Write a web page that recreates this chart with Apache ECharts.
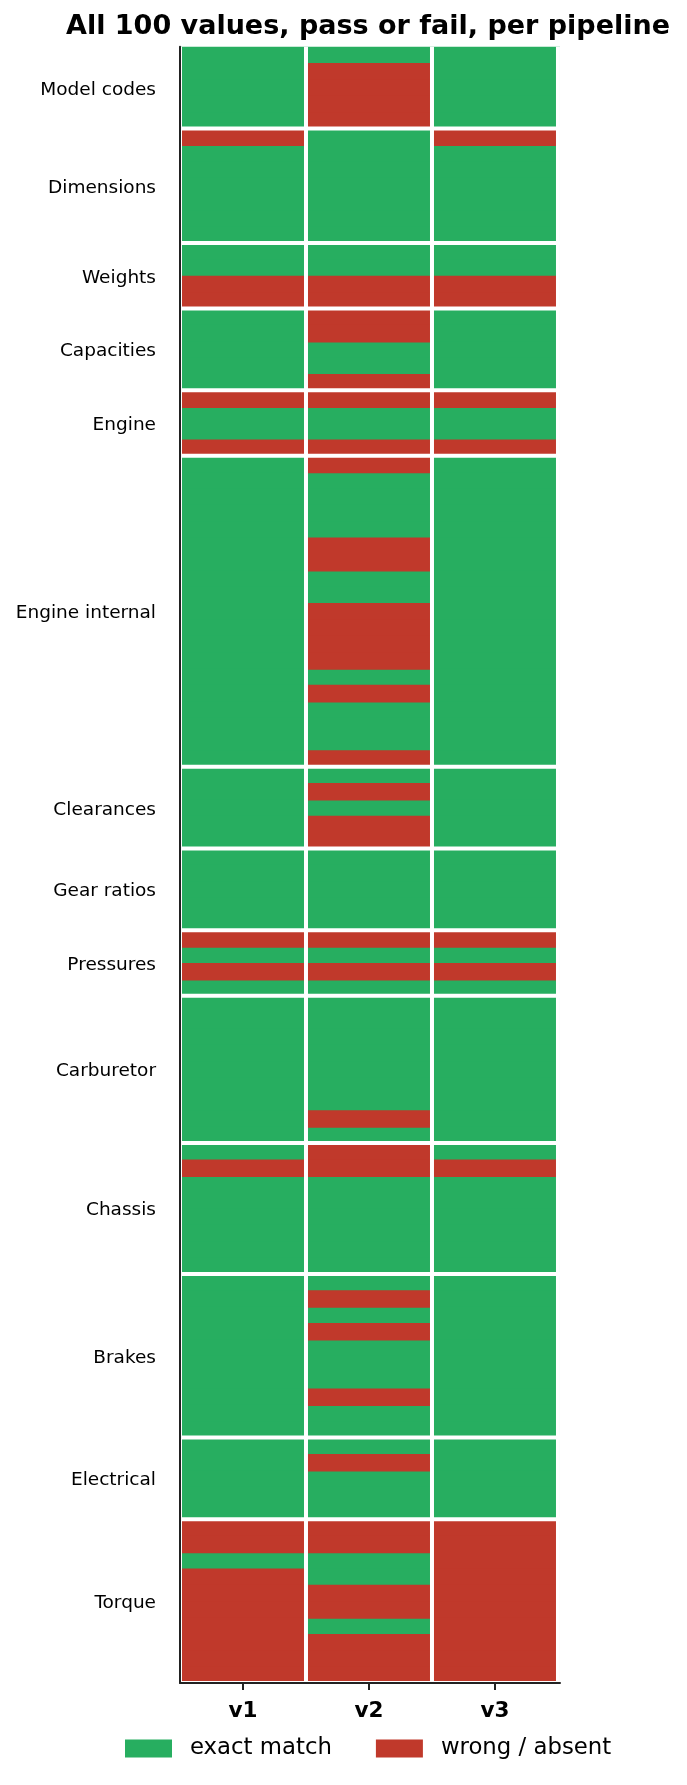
<!DOCTYPE html>
<html>
<head>
<meta charset="utf-8">
<script src="https://cdn.jsdelivr.net/npm/echarts@6/dist/echarts.min.js"></script>
<style>
html,body{margin:0;padding:0;background:#fff;}
#c{width:687px;height:1785px;}
</style>
</head>
<body>
<div id="c"></div>
<script>
const TITLE = 'All 100 values, pass or fail, per pipeline';
const pipelines = ['v1', 'v2', 'v3'];
const groups = ['Model codes', 'Dimensions', 'Weights', 'Capacities', 'Engine', 'Engine internal',
  'Clearances', 'Gear ratios', 'Pressures', 'Carburetor', 'Chassis', 'Brakes', 'Electrical', 'Torque'];
const groupSizes = [5, 7, 4, 5, 4, 19, 5, 5, 4, 9, 8, 10, 5, 10];
const legendNames = ['exact match', 'wrong / absent'];

// 1 = exact match, 0 = wrong / absent (one value per row, grouped as above)
const v1 = [
  1,1,1,1,1,
  0,1,1,1,1,1,1,
  1,1,0,0,
  1,1,1,1,1,
  0,1,1,0,
  1,1,1,1,1,1,1,1,1,1,1,1,1,1,1,1,1,1,1,
  1,1,1,1,1,
  1,1,1,1,1,
  0,1,0,1,
  1,1,1,1,1,1,1,1,1,
  1,0,1,1,1,1,1,1,
  1,1,1,1,1,1,1,1,1,1,
  1,1,1,1,1,
  0,0,1,0,0,0,0,0,0,0
];
const v2 = [
  1,0,0,0,0,
  1,1,1,1,1,1,1,
  1,1,0,0,
  0,0,1,1,0,
  0,1,1,0,
  0,1,1,1,1,0,0,1,1,0,0,0,0,1,0,1,1,1,0,
  1,0,1,0,0,
  1,1,1,1,1,
  0,1,0,1,
  1,1,1,1,1,1,1,0,1,
  0,0,1,1,1,1,1,1,
  1,0,1,0,1,1,1,0,1,1,
  1,0,1,1,1,
  0,0,1,1,0,0,1,0,0,0
];
const v3 = [
  1,1,1,1,1,
  0,1,1,1,1,1,1,
  1,1,0,0,
  1,1,1,1,1,
  0,1,1,0,
  1,1,1,1,1,1,1,1,1,1,1,1,1,1,1,1,1,1,1,
  1,1,1,1,1,
  1,1,1,1,1,
  0,1,0,1,
  1,1,1,1,1,1,1,1,1,
  1,0,1,1,1,1,1,1,
  1,1,1,1,1,1,1,1,1,1,
  1,1,1,1,1,
  0,0,0,0,0,0,0,0,0,0
];

const GREEN = '#27ae60', RED = '#c0392b';
const FONT = 'DejaVu Sans';
const XMAX = 2.516;

const values = [v1, v2, v3];
const totalRows = v1.length;
const passCells = [], failCells = [];
values.forEach((arr, col) => arr.forEach((v, row) => (v ? passCells : failCells).push([col, row])));

// group boundaries and centres
const bounds = [];
const centers = [];
let acc = 0;
groupSizes.forEach((n, i) => {
  centers.push(acc + n / 2);
  acc += n;
  bounds.push(acc);
});
const sepData = bounds.map(b => [0, b]).concat(
  [[1, -0.5]],
  pipelines.map((p, i) => [1, i + 0.5])
);

function cellRender(params, api) {
  const col = api.value(0), row = api.value(1);
  const p0 = api.coord([col - 0.5, row]);
  const p1 = api.coord([col === pipelines.length - 1 ? XMAX : col + 0.5, row + 1]);
  const last = row === totalRows - 1;
  return {
    type: 'rect',
    shape: { x: p0[0], y: p0[1], width: p1[0] - p0[0], height: p1[1] - p0[1] + (last ? 0 : 1.2) },
    style: { fill: api.visual('color') }
  };
}
function sepRender(params, api) {
  const kind = api.value(0), pos = api.value(1);
  let a, b;
  if (kind === 0) { a = api.coord([-0.5, pos]); b = api.coord([XMAX, pos]); }
  else { a = api.coord([pos, 0]); b = api.coord([pos, totalRows]); }
  return {
    type: 'line',
    shape: { x1: a[0], y1: a[1], x2: b[0], y2: b[1] },
    style: { stroke: '#ffffff', lineWidth: 4 }
  };
}

const chart = echarts.init(document.getElementById('c'), null, { renderer: 'canvas' });
chart.setOption({
  backgroundColor: '#ffffff',
  animation: false,
  title: {
    text: TITLE, left: 66, top: 13, padding: 0,
    textStyle: { fontFamily: FONT, fontSize: 27, fontWeight: 'bold', color: '#000' }
  },
  legend: {
    data: legendNames, left: 125, top: 1737, padding: 0,
    icon: 'rect', itemWidth: 47, itemHeight: 18, itemGap: 44,
    textStyle: { fontFamily: FONT, fontSize: 22.8, color: '#000', padding: [0, 0, 0, 13] }
  },
  grid: { left: 180, right: 127, top: 46.7, bottom: 102 },
  xAxis: {
    type: 'value', min: -0.5, max: XMAX, z: 10,
    splitLine: { show: false },
    axisLine: { show: true, onZero: false, lineStyle: { color: '#222', width: 2 } },
    axisTick: { show: true, customValues: [0, 1, 2], length: 7, lineStyle: { color: '#222', width: 2 } },
    axisLabel: {
      customValues: [0, 1, 2], margin: 17,
      formatter: v => pipelines[Math.round(v)],
      fontFamily: FONT, fontSize: 21.5, fontWeight: 'bold', color: '#000'
    }
  },
  yAxis: {
    type: 'value', inverse: true, min: 0, max: totalRows, z: 10,
    splitLine: { show: false },
    axisLine: { show: true, onZero: false, lineStyle: { color: '#222', width: 2 } },
    axisTick: { show: false },
    axisLabel: {
      customValues: centers, margin: 24, verticalAlign: 'top', lineHeight: 4.4,
      formatter: v => {
        let best = 0;
        centers.forEach((c, i) => { if (Math.abs(c - v) < Math.abs(centers[best] - v)) best = i; });
        return groups[best];
      },
      fontFamily: FONT, fontSize: 18.5, color: '#000'
    }
  },
  series: [
    { name: legendNames[0], type: 'custom', renderItem: cellRender, data: passCells, itemStyle: { color: GREEN }, silent: true },
    { name: legendNames[1], type: 'custom', renderItem: cellRender, data: failCells, itemStyle: { color: RED }, silent: true },
    { name: 'separators', type: 'custom', renderItem: sepRender, data: sepData, silent: true, z: 5 }
  ]
});
</script>
</body>
</html>
